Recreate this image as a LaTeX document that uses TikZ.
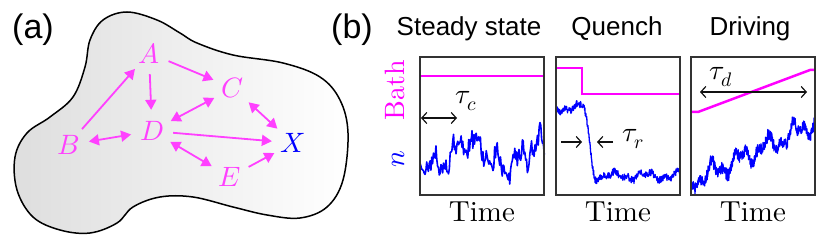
\documentclass[tikz,border=0pt]{standalone}
\usepackage{fontspec}
\usepackage{unicode-math}
\setmainfont{lmroman10-regular.otf}[ItalicFont=lmroman10-italic.otf,BoldFont=lmroman10-bold.otf]
\newfontfamily\headfont{Liberation Sans}
\usetikzlibrary{arrows.meta,calc,positioning}
\definecolor{ink}{HTML}{111111}
\definecolor{edge}{HTML}{333333}
\definecolor{mag}{HTML}{FF40FF}
\definecolor{bath}{HTML}{FF00FF}
\definecolor{trace}{HTML}{0000FF}

\begin{document}
\begin{tikzpicture}[x=1pt,y=-1pt,
  var/.style={circle,inner sep=0pt,minimum size=42pt,text=mag,font=\fontsize{28}{32}\selectfont},
  link/.style={draw=mag,line width=1.8pt,-{Triangle[length=10pt,width=11pt]}},
  both/.style={link,{Triangle[length=10pt,width=11pt]}-{Triangle[length=10pt,width=11pt]}},
  panel/.style={draw=edge,line width=1.5pt},
  title/.style={anchor=base,font=\headfont\fontsize{26}{30}\selectfont},
  axis/.style={anchor=base,font=\fontsize{29}{33}\selectfont},
  tauarrow/.style={draw=ink,line width=1.2pt,{Straight Barb[length=5pt,width=11pt]}-{Straight Barb[length=5pt,width=11pt]}},
  trace/.style={draw=trace,line width=1.6pt,line join=round},
  bathline/.style={draw=bath,line width=2.5pt}]
\useasboundingbox (0,0) rectangle (830,245);
\pgfmathsetseed{11}

% (a) the blob with its graph
\draw[line width=1.5pt,left color=black!13,right color=white] plot[smooth cycle,tension=0.6] coordinates {
  (127,12) (157,20) (180,33) (197,43) (233,55) (283,63) (320,77) (340,100) (348,133)
  (343,180) (327,207) (300,218) (267,215) (233,207) (193,197) (160,197) (133,207)
  (117,223) (90,233) (60,230) (33,217) (17,190) (15,157) (27,133) (50,117) (73,97)
  (85,67) (90,40) (103,20)};
\node[font=\headfont\fontsize{34}{38}\selectfont,anchor=base] (la) at (33,39) {(a)};
\node[var] (A) at (149,53) {$A$};
\node[var] (C) at (233,88) {$C$};
\node[var] (D) at (152,131) {$D$};
\node[var] (B) at (68,145) {$B$};
\node[var,text=trace] (X) at (293,143) {$X$};
\node[var] (E) at (230,177) {$E$};
\draw[link] (B) -- (A);
\draw[link] (A) -- (D);
\draw[link] (A) -- (C);
\draw[both] (C) -- (D);
\draw[both] (C) -- (X);
\draw[link] (D) -- (X);
\draw[both] (B) -- (D);
\draw[both] (D) -- (E);
\draw[link] (E) -- (X);

% (b) three time traces
\node[font=\headfont\fontsize{34}{38}\selectfont,anchor=base] (lb) at (352,39) {(b)};
\node[rotate=90,anchor=base,text=bath,font=\fontsize{28}{32}\selectfont] (bathlabel) at (404,90) {Bath};
\node[rotate=90,anchor=base,text=trace,font=\fontsize{28}{32}\selectfont] (nlabel) at (404,159) {$n$};

\begin{scope}
  \clip (420,57) rectangle ++(125,138);
  \draw[trace] plot[domain=0:125,samples=150] ({\x+420},{155+11*sin(5*\x+20)+8*sin(17*\x+30)+6*sin(41*\x)+9*rand});
\end{scope}
\begin{scope}
  \clip (556,57) rectangle ++(124,138);
  \draw[trace,line width=1.3pt] plot[domain=0:124,samples=400] ({\x+556},{108+34*(1-cos(180*min(1,max(0,(\x-27)/13))))+3*sin(11*\x)+2*sin(29*\x)+3.5*rand});
\end{scope}
\begin{scope}
  \clip (691,57) rectangle ++(124,138);
  \draw[trace,line width=1.3pt] plot[domain=0:124,samples=400] ({\x+691},{178-55*max(0,\x-9)/115+7*sin(13*\x)+5*sin(31*\x)+6*rand});
\end{scope}

\draw[bathline] (420,76) -- (545,76);
\draw[bathline] (556,68) -- (582,68) -- (582,94) -- (680,94);
\draw[bathline] (691,112) -- (698,112) -- (810,70) -- (815,70);

\foreach \xl/\xt/\name [count=\i] in {420/469/Steady state,556/617/Quench,691/750/Driving}{
  \draw[panel] (\xl,57) rectangle ++(124,138);
  \node[title] (title\i) at (\xt,36) {\name};
  \node[axis] (time\i) at (\xl+62,222) {Time};
}

% relaxation and driving times
\coordinate (c1) at (421,118);
\coordinate (c2) at (457,118);
\draw[tauarrow] (c1) -- (c2);
\node[font=\fontsize{28}{32}\selectfont] (tauc) at (466,101) {$\tau_c$};
\coordinate (r1) at (561,142);
\coordinate (r2) at (582,142);
\coordinate (r3) at (613,142);
\coordinate (r4) at (597,142);
\draw[tauarrow,-{Straight Barb[length=5pt,width=11pt]}] (r1) -- (r2);
\draw[tauarrow,-{Straight Barb[length=5pt,width=11pt]}] (r3) -- (r4);
\node[font=\fontsize{28}{32}\selectfont] (taur) at (633,139) {$\tau_r$};
\coordinate (d1) at (700,92);
\coordinate (d2) at (807,92);
\draw[tauarrow] (d1) -- (d2);
\node[font=\fontsize{28}{32}\selectfont] (taud) at (721,77) {$\tau_d$};
\end{tikzpicture}
\end{document}
